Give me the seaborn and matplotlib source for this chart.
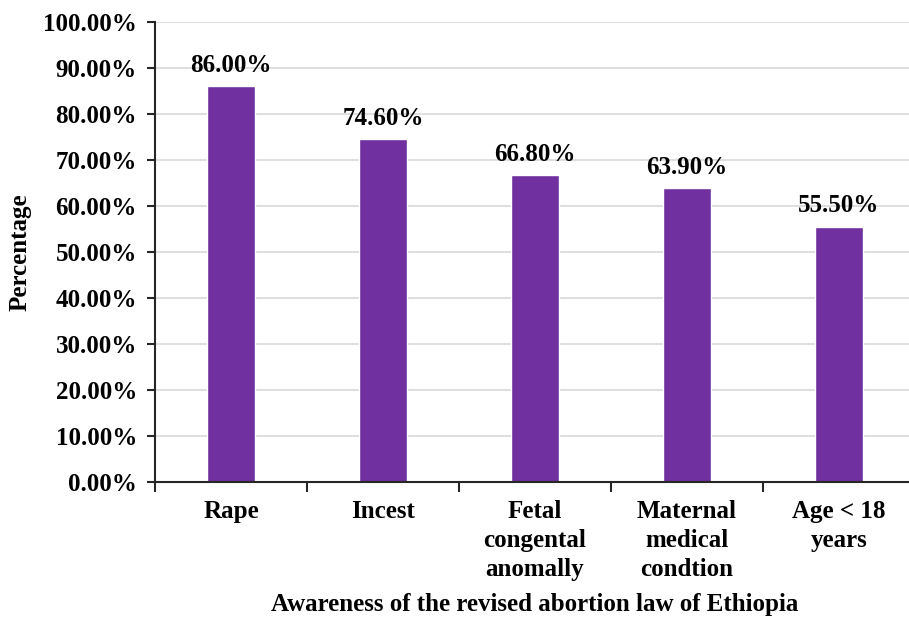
import matplotlib
matplotlib.use("Agg")
import matplotlib.pyplot as plt
import seaborn as sns
import pandas as pd
import numpy as np
from matplotlib.ticker import FuncFormatter, FixedLocator

categories = ["Rape", "Incest", "Fetal\ncongental\nanomally", "Maternal\nmedical\ncondtion", "Age < 18\nyears"]
values = [86.0, 74.6, 66.8, 63.9, 55.5]
yticks = [0, 10, 20, 30, 40, 50, 60, 70, 80, 90, 100]

sns.set_theme(style="white")
plt.rcParams['font.family'] = ['Liberation Serif', 'DejaVu Serif']
plt.rcParams['font.weight'] = 'bold'

FS = 18

df = pd.DataFrame({"cat": categories, "val": values})

fig = plt.figure(figsize=(9.09, 6.17), dpi=100)
ax = fig.add_axes([155/909, (617-482)/617, 760/909, 460/617])

sns.barplot(data=df, x="cat", y="val", color="#7030A0", width=0.32, ax=ax, saturation=1)

ax.set_ylim(0, 100)
ax.set_xlim(-0.5, 4.5)
ax.set_yticks(yticks)
ax.yaxis.set_major_formatter(FuncFormatter(lambda v, p: f"{v:.2f}%"))
ax.grid(axis="y", color="#D9D9D9", linewidth=1.2)
ax.set_axisbelow(True)

for sp in ["top", "right"]:
    ax.spines[sp].set_visible(False)
for sp in ["left", "bottom"]:
    ax.spines[sp].set_color("#262626")
    ax.spines[sp].set_linewidth(1.5)

ax.tick_params(axis="y", which="major", left=True, length=6, width=1.5, color="#262626",
               labelsize=FS, pad=7)
ax.tick_params(axis="x", which="major", bottom=False, length=0, labelsize=FS, pad=13)
ax.xaxis.set_minor_locator(FixedLocator([-0.5, 0.5, 1.5, 2.5, 3.5]))
ax.tick_params(axis="x", which="minor", bottom=True, length=7, width=1.5, color="#262626")
for lab in ax.get_xticklabels() + ax.get_yticklabels():
    lab.set_fontweight("bold")
    lab.set_color("black")
for lab in ax.get_xticklabels():
    lab.set_linespacing(1.33)

for i, v in enumerate(values):
    ax.text(i, v + 2.0, f"{v:.2f}%", ha="center", va="bottom", fontsize=FS,
            fontweight="bold", color="black")

ax.set_xlabel("Awareness of the revised abortion law of Ethiopia", fontsize=FS,
              fontweight="bold", color="black", labelpad=9)
ax.set_ylabel("Percentage", fontsize=FS, fontweight="bold", color="black", labelpad=8)

fig.savefig("out.png", dpi=100)
